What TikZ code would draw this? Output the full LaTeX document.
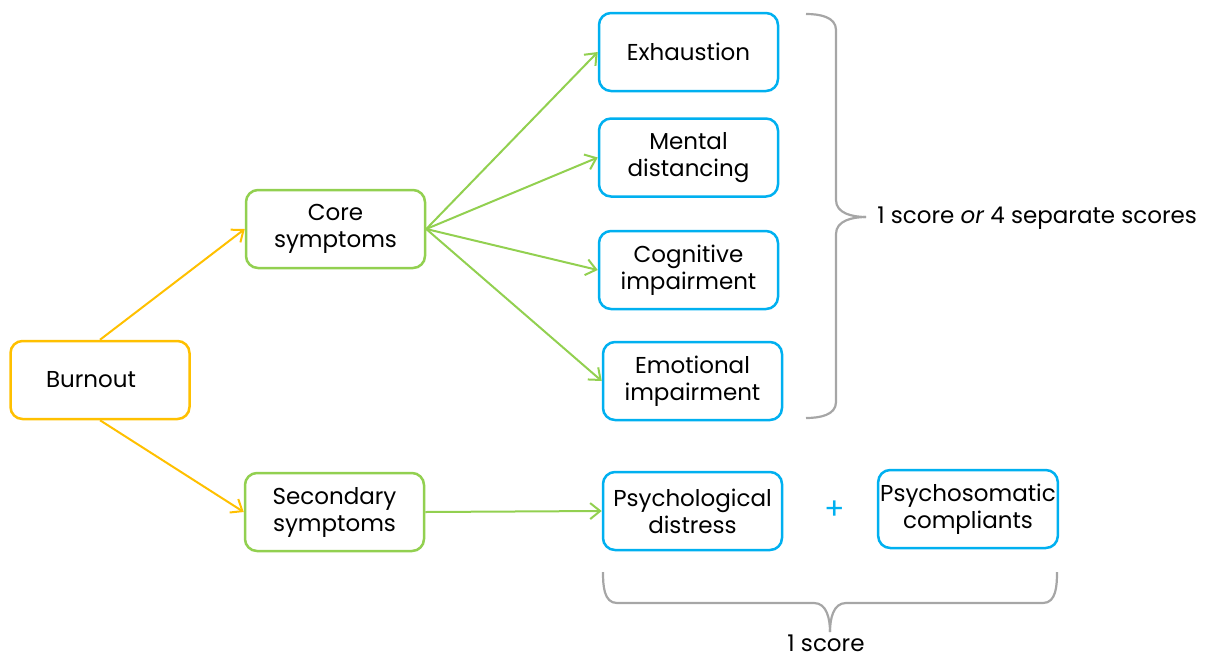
\documentclass[tikz,border=0pt]{standalone}
\usepackage{fontspec}
\setmainfont{Poppins}
\usetikzlibrary{arrows.meta}
\definecolor{cyellow}{HTML}{FFC000}
\definecolor{cgreen}{HTML}{92D050}
\definecolor{cblue}{HTML}{00B0F0}
\definecolor{cgray}{HTML}{A6A6A6}
\begin{document}
\begin{tikzpicture}[x=0.5pt,y=-0.5pt,
  box/.style={draw,line width=1.25pt,rounded corners=6pt,fill=white,
    minimum width=89.5pt,minimum height=39pt,inner sep=1pt,align=center,
    font=\fontsize{11.5}{13.5}\selectfont},
  ybox/.style={box,draw=cyellow},
  gbox/.style={box,draw=cgreen},
  bbox/.style={box,draw=cblue},
  yarr/.style={draw=cyellow,line width=1pt,-{Straight Barb[length=5pt,width=8pt]}},
  garr/.style={draw=cgreen,line width=1pt,-{Straight Barb[length=5pt,width=8pt]}},
  brace/.style={draw=cgray,line width=1.1pt},
  lbl/.style={font=\fontsize{11.5}{13.5}\selectfont,inner sep=0pt}]
\useasboundingbox (0,0) rectangle (1215,659);

% boxes
\node[ybox] (burnout) at (100,380) {Burnout\hspace{9pt}};
\node[gbox] (core) at (335.5,229) {Core\\symptoms};
\node[gbox] (second) at (334.5,512) {Secondary\\symptoms};
\node[bbox] (exh) at (688.5,52) {Exhaustion};
\node[bbox] (ment) at (688.5,157.5) {Mental\\distancing};
\node[bbox] (cogn) at (688.5,270) {Cognitive\\impairment};
\node[bbox] (emot) at (692.5,381) {Emotional\\impairment};
\node[bbox] (psyd) at (692.5,511) {Psychological\\distress};
\node[bbox] (psys) at (968,509) {Psychosomatic\\compliants};
\node[lbl,text=cblue,font=\fontsize{15}{17}\selectfont] (plus) at (835,510) {+};

% connectors
\draw[yarr] (burnout.north) -- (core.west);
\draw[yarr] (burnout.south) -- (second.west);
\draw[garr] (core.east) -- (exh.west);
\draw[garr] (core.east) -- (ment.west);
\draw[garr] (core.east) -- (cogn.west);
\draw[garr] (core.east) -- (emot.west);
\draw[garr] (second.east) -- (psyd.west);

% right brace over the four core scores
\coordinate (rtip) at (866,217);
\draw[brace] (806,14) to[out=0,in=90] (836,30) -- (836,200) to[out=-90,in=180] (rtip);
\draw[brace] (806,418) to[out=0,in=-90] (836,402) -- (836,234) to[out=90,in=180] (rtip);
\node[lbl,anchor=west] (rlbl) at (877,218) {1 score \textit{or} 4 separate scores};

% bottom brace under the secondary scores
\coordinate (btip) at (830,632);
\draw[brace] (603,572) to[out=-90,in=180] (617,603) -- (814,603) to[out=0,in=90] (btip);
\draw[brace] (1057,572) to[out=-90,in=0] (1043,603) -- (846,603) to[out=180,in=90] (btip);
\node[lbl] (blbl) at (826,643) {1 score};
\end{tikzpicture}
\end{document}
